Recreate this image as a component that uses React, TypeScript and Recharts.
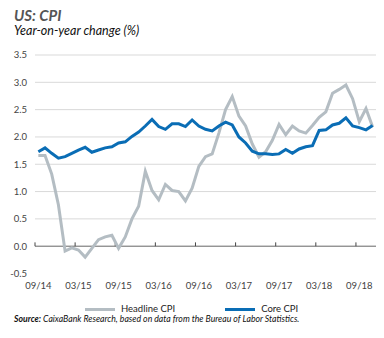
import { LineChart, Line, XAxis, YAxis, CartesianGrid, ReferenceLine } from "recharts"

// months shown, 09/2014 .. 11/2018
const months = [
  "09/14", "10/14", "11/14", "12/14",
  "01/15", "02/15", "03/15", "04/15", "05/15", "06/15", "07/15", "08/15", "09/15", "10/15", "11/15", "12/15",
  "01/16", "02/16", "03/16", "04/16", "05/16", "06/16", "07/16", "08/16", "09/16", "10/16", "11/16", "12/16",
  "01/17", "02/17", "03/17", "04/17", "05/17", "06/17", "07/17", "08/17", "09/17", "10/17", "11/17", "12/17",
  "01/18", "02/18", "03/18", "04/18", "05/18", "06/18", "07/18", "08/18", "09/18", "10/18", "11/18",
]

const headlineCpi = [
  1.66, 1.66, 1.32, 0.76,
  -0.09, -0.03, -0.07, -0.2, -0.04, 0.12, 0.17, 0.2, -0.04, 0.17, 0.5, 0.73,
  1.37, 1.02, 0.85, 1.13, 1.02, 1.0, 0.83, 1.06, 1.46, 1.64, 1.69, 2.07,
  2.5, 2.74, 2.38, 2.2, 1.87, 1.63, 1.73, 1.94, 2.23, 2.04, 2.2, 2.11,
  2.07, 2.21, 2.36, 2.46, 2.8, 2.87, 2.95, 2.7, 2.28, 2.52, 2.18,
]

const coreCpi = [
  1.73, 1.8, 1.7, 1.61,
  1.64, 1.7, 1.76, 1.81, 1.72, 1.76, 1.8, 1.82, 1.89, 1.91, 2.01, 2.09,
  2.2, 2.32, 2.19, 2.14, 2.24, 2.24, 2.19, 2.31, 2.2, 2.14, 2.11, 2.2,
  2.27, 2.22, 2.0, 1.89, 1.74, 1.69, 1.69, 1.68, 1.69, 1.77, 1.7, 1.78,
  1.82, 1.84, 2.12, 2.13, 2.22, 2.25, 2.35, 2.2, 2.17, 2.13, 2.21,
]

const tickLabels = ["09/14", "03/15", "09/15", "03/16", "09/16", "03/17", "09/17", "03/18", "09/18"]
const yTicks = [-0.5, 0, 0.5, 1, 1.5, 2, 2.5, 3, 3.5]

const series = [
  { key: "headline", name: "Headline CPI", color: "#b4bdc3" },
  { key: "core", name: "Core CPI", color: "#0a6db5" },
]

const data = months.map((m, i) => ({ i, month: m, headline: headlineCpi[i], core: coreCpi[i] }))
const xTicks = tickLabels.map((l) => months.indexOf(l))

const FONT = "Lato, 'Open Sans', sans-serif"

export default function App() {
  return (
    <div style={{ position: "absolute", left: 0, top: 0, width: 384, height: 338, background: "#fff", fontFamily: FONT }}>
      <div style={{ position: "absolute", left: 14, top: 8, fontSize: 15, lineHeight: "15px", fontWeight: 700, fontStyle: "italic", color: "#555" }}>
        US: CPI
      </div>
      <div style={{ position: "absolute", left: 14, top: 24.5, fontSize: 12.5, lineHeight: "12.5px", fontStyle: "italic", color: "#111" }}>
        Year-on-year change (%)
      </div>

      <div style={{ position: "absolute", left: 0, top: 0 }}>
        <LineChart width={384} height={338} data={data} margin={{ top: 55, right: 8, bottom: 44.5, left: 5 }}>
          <CartesianGrid vertical={false} stroke="#d9d9d9" horizontalValues={yTicks.filter((v) => v > 0)} />
          <XAxis
            dataKey="i"
            type="number"
            domain={[-0.5, months.length - 0.5]}
            ticks={xTicks}
            tickFormatter={(v: number) => months[v]}
            axisLine={false}
            tickLine={false}
            tickSize={0}
            tickMargin={8.5}
            height={20}
            interval={0}
            tick={{ fill: "#444", fontSize: 9.5, fontFamily: FONT }}
          />
          <YAxis
            domain={[-0.5, 3.5]}
            ticks={yTicks}
            tickFormatter={(v: number) => v.toFixed(1)}
            axisLine={false}
            tickLine={false}
            tickSize={0}
            tickMargin={8}
            width={30}
            interval={0}
            tick={{ fill: "#444", fontSize: 9.5, fontFamily: FONT }}
          />
          <ReferenceLine y={0} stroke="#666" strokeWidth={1} />
          {xTicks.map((t) => (
            <ReferenceLine
              key={t}
              segment={[{ x: t - 0.5, y: 0 }, { x: t - 0.5, y: 0.07 }]}
              stroke="#444"
              strokeWidth={1}
            />
          ))}
          {series.map((s) => (
            <Line
              key={s.key}
              dataKey={s.key}
              name={s.name}
              stroke={s.color}
              strokeWidth={3}
              dot={false}
              type="linear"
              isAnimationActive={false}
            />
          ))}
        </LineChart>
      </div>

      <div style={{ position: "absolute", top: 303, left: 85, display: "flex", alignItems: "center", fontSize: 9.5, color: "#222" }}>
        {series.map((s, idx) => (
          <div key={s.key} style={{ display: "flex", alignItems: "center", marginRight: idx === 0 ? 50 : 0 }}>
            <span style={{ display: "inline-block", width: 30, height: 3, background: s.color, marginRight: 6 }} />
            <span style={{ lineHeight: "12px" }}>{s.name}</span>
          </div>
        ))}
      </div>

      <div style={{ position: "absolute", left: 14, top: 313.5, fontSize: 8.7, lineHeight: "10px", fontStyle: "italic", color: "#111", whiteSpace: "nowrap" }}>
        <b>Source:</b> CaixaBank Research, based on data from the Bureau of Labor Statistics.
      </div>
    </div>
  )
}
